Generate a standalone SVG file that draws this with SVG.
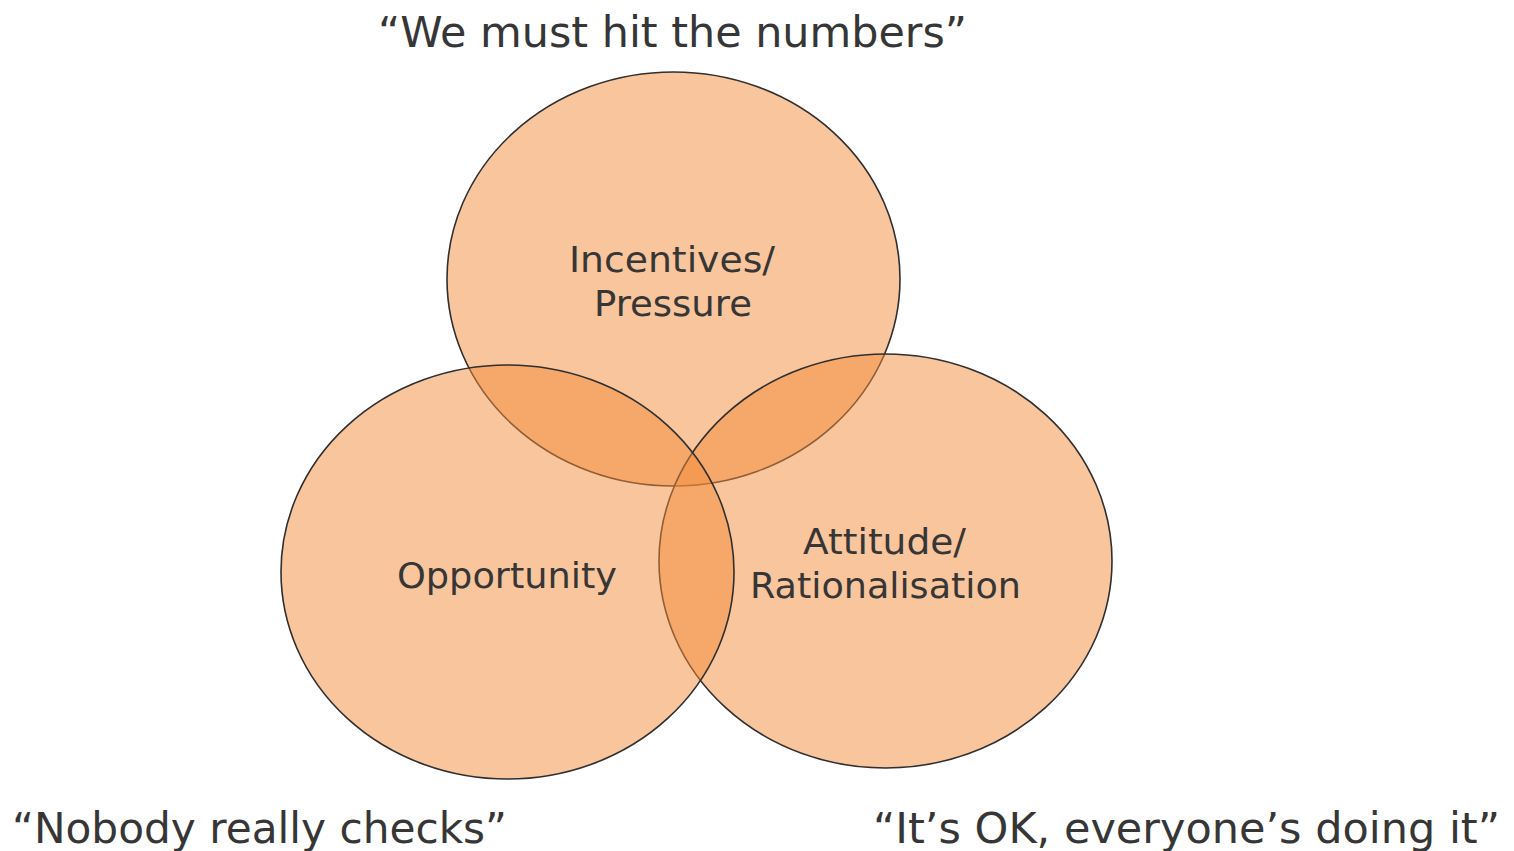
<svg xmlns="http://www.w3.org/2000/svg" width="1514" height="851" viewBox="0 0 1514 851">
  <style>
    .circle { fill: #F38B39; fill-opacity: 0.5; stroke: #2F2F2F; stroke-width: 1.6; }
    .label { font-family: "DejaVu Sans", Verdana, sans-serif; font-size: 36px; fill: #363636; text-anchor: middle; }
    .quote { font-family: "DejaVu Sans", Verdana, sans-serif; font-size: 42.5px; fill: #363636; text-anchor: middle; }
  </style>
  <rect width="1514" height="851" fill="#FFFFFF"/>

  <!-- Three overlapping sets: drawn top, right, then left -->
  <g id="incentives">
    <ellipse class="circle" cx="673.5" cy="279" rx="226.5" ry="207"/>
    <text class="label" x="672" y="272" textLength="206" lengthAdjust="spacingAndGlyphs">Incentives/</text>
    <text class="label" x="673" y="316" textLength="158" lengthAdjust="spacingAndGlyphs">Pressure</text>
  </g>
  <g id="attitude">
    <ellipse class="circle" cx="885.5" cy="561" rx="226.5" ry="207"/>
    <text class="label" x="884.5" y="554" textLength="163" lengthAdjust="spacingAndGlyphs">Attitude/</text>
    <text class="label" x="885.5" y="598" textLength="271" lengthAdjust="spacingAndGlyphs">Rationalisation</text>
  </g>
  <g id="opportunity">
    <ellipse class="circle" cx="507.5" cy="572" rx="226.5" ry="207"/>
    <text class="label" x="507" y="588" textLength="220" lengthAdjust="spacingAndGlyphs">Opportunity</text>
  </g>

  <!-- Quotations -->
  <g id="quotes">
    <text class="quote" x="672.5" y="47" textLength="589" lengthAdjust="spacingAndGlyphs">“We must hit the numbers”</text>
    <text class="quote" x="259.5" y="843" textLength="495" lengthAdjust="spacingAndGlyphs">“Nobody really checks”</text>
    <text class="quote" x="1186.5" y="843" textLength="627" lengthAdjust="spacingAndGlyphs">“It’s OK, everyone’s doing it”</text>
  </g>

  <g id="connectors"/>
</svg>
